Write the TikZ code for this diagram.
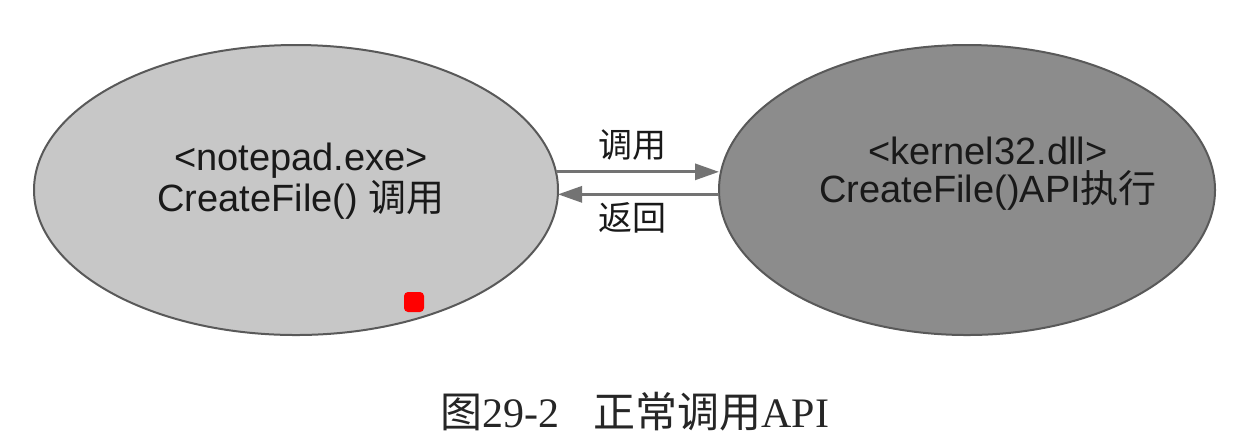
\documentclass[tikz,border=0pt]{standalone}
\usepackage{fontspec}
\setmainfont{Liberation Sans}
\newfontfamily\cjk{Noto Sans CJK SC}
\newfontfamily\capserif{Liberation Serif}
\usetikzlibrary{shapes.geometric,arrows.meta}
\begin{document}
\begin{tikzpicture}[x=0.5pt,y=-0.5pt,
  bubble/.style={ellipse,draw=black!65,line width=1pt,inner sep=0pt,outer sep=0pt},
  lbl/.style={inner sep=0pt,align=center,text=black!90,font=\fontsize{19}{19}\selectfont},
  edgelbl/.style={inner sep=0pt,text=black!90,font=\cjk\fontsize{17}{20}\selectfont},
  caplbl/.style={inner sep=0pt,anchor=west,text=black!85,font=\capserif\fontsize{21}{24}\selectfont},
  arr/.style={draw=black!55,line width=1.5pt,-{Triangle[length=12pt,width=8pt]}}]
\useasboundingbox (0,0) rectangle (1251,447);
\fill[white] (0,0) rectangle (1251,447);
\node[bubble,fill=black!22,minimum width=262pt,minimum height=145pt] (L) at (296,190) {};
\node[bubble,fill=black!45,minimum width=248pt,minimum height=145pt] (R) at (967,190) {};
\node[lbl] (ltext) at (301,181) {<notepad.exe>\\CreateFile() {\cjk 调用}};
\node[lbl] (rtext) at (988,174) {<kernel32.dll>\\CreateFile()API{\cjk 执行}};
\draw[arr] (L.4.9) -- (L.4.9 -| R.west);
\draw[arr] (R.181.85) -- (R.181.85 -| L.east);
\node[edgelbl] (call) at (632,145) {调用};
\node[edgelbl] (ret) at (632,218) {返回};
\node[fill=red,rounded corners=2pt,minimum size=10pt,inner sep=0pt] (mark) at (414,302) {};
\node[caplbl] (cap1) at (440,412) {{\cjk 图}29-2};
\node[caplbl] (cap2) at (593,412) {{\cjk 正常调用}API};
\end{tikzpicture}
\end{document}
